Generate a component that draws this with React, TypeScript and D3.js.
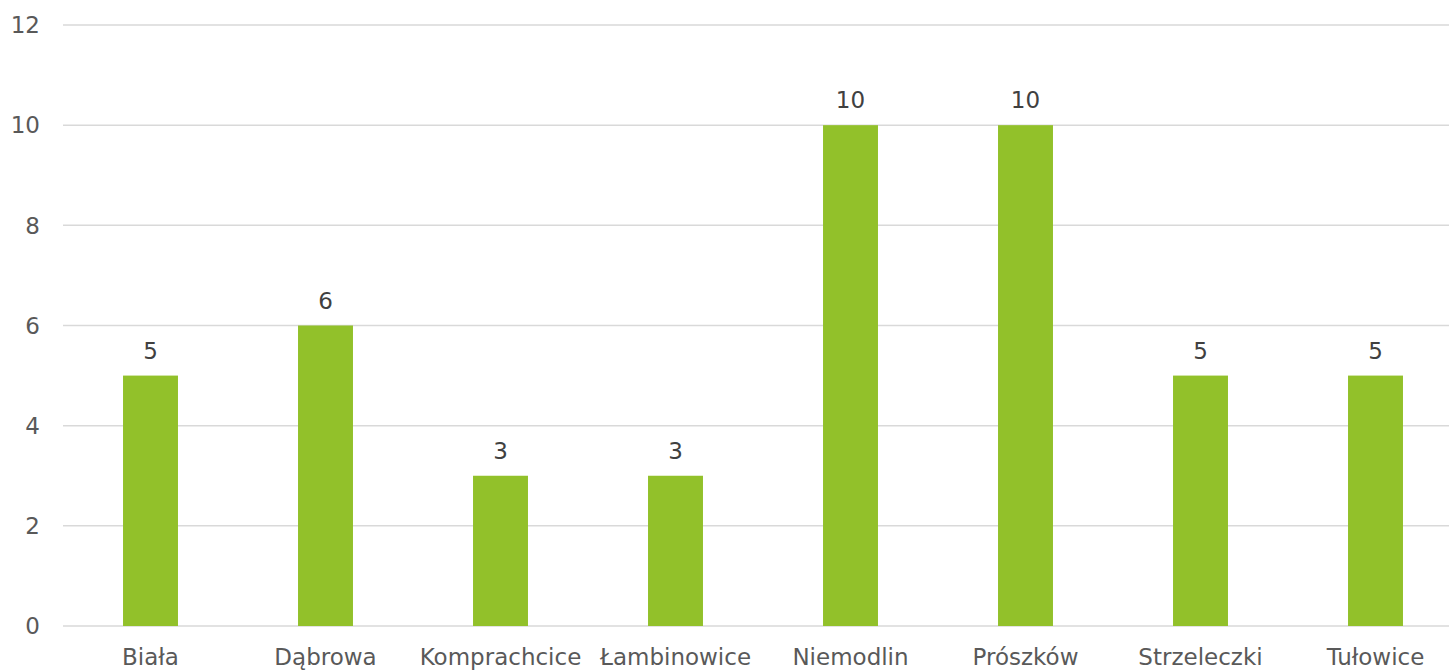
import React, { useEffect, useRef } from 'react';
import * as d3 from 'd3';

const categories = ['Biała', 'Dąbrowa', 'Komprachcice', 'Łambinowice', 'Niemodlin', 'Prószków', 'Strzeleczki', 'Tułowice'];
const values = [5, 6, 3, 3, 10, 10, 5, 5];
const yTicks = [0, 2, 4, 6, 8, 10, 12];

const App: React.FC = () => {
    const svgRef = useRef<SVGSVGElement | null>(null);

    useEffect(() => {
        if (!svgRef.current) return;
        const svg = d3.select(svgRef.current);
        const width = 1449;
        const height = 672;
        const font = '"DejaVu Sans", sans-serif';
        const textColor = '#595959';
        const fontSize = 23;

        svg.selectAll('*').remove();
        svg.attr('width', width).attr('height', height);

        const x = d3.scaleBand<string>()
            .domain(categories)
            .range([63, 1463])
            .paddingInner(0.686)
            .paddingOuter(0.343);

        const y = d3.scaleLinear()
            .domain([0, 12])
            .range([626, 25]);

        // horizontal grid lines
        svg.append('g')
            .selectAll('line')
            .data(yTicks)
            .enter()
            .append('line')
            .attr('x1', 63)
            .attr('x2', width)
            .attr('y1', (d) => y(d))
            .attr('y2', (d) => y(d))
            .attr('stroke', '#d9d9d9')
            .attr('stroke-width', 1.5);

        // y tick labels
        svg.append('g')
            .selectAll('text')
            .data(yTicks)
            .enter()
            .append('text')
            .attr('x', 40)
            .attr('y', (d) => y(d))
            .attr('dy', '0.36em')
            .attr('text-anchor', 'end')
            .attr('font-family', font)
            .attr('font-size', fontSize)
            .attr('fill', textColor)
            .text((d) => d);

        const data = categories.map((c, i) => ({ c, v: values[i] }));

        svg.append('g')
            .selectAll('rect')
            .data(data)
            .enter()
            .append('rect')
            .attr('x', (d) => x(d.c) as number)
            .attr('width', x.bandwidth())
            .attr('y', (d) => y(d.v))
            .attr('height', (d) => y(0) - y(d.v))
            .attr('fill', '#92c12a');

        // value labels
        svg.append('g')
            .selectAll('text')
            .data(data)
            .enter()
            .append('text')
            .attr('x', (d) => (x(d.c) as number) + x.bandwidth() / 2)
            .attr('y', (d) => y(d.v) - 17)
            .attr('text-anchor', 'middle')
            .attr('font-family', font)
            .attr('font-size', fontSize)
            .attr('fill', '#404040')
            .text((d) => d.v);

        // category labels
        svg.append('g')
            .selectAll('text')
            .data(categories)
            .enter()
            .append('text')
            .attr('x', (d) => (x(d) as number) + x.bandwidth() / 2)
            .attr('y', 665)
            .attr('text-anchor', 'middle')
            .attr('font-family', font)
            .attr('font-size', fontSize)
            .attr('fill', textColor)
            .text((d) => d);
    }, []);

    return <svg ref={svgRef} style={{ position: 'absolute', left: 0, top: 0 }}></svg>;
};

export default App;
